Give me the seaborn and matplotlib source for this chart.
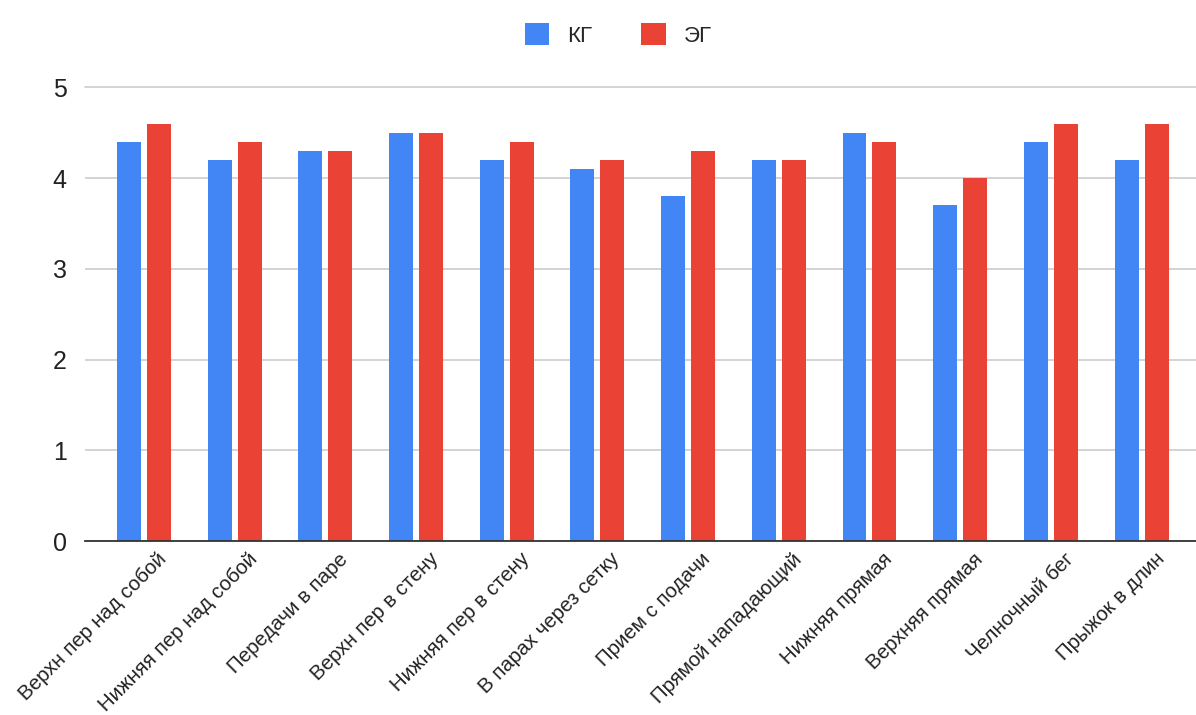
import matplotlib
matplotlib.use("Agg")
import matplotlib.pyplot as plt
import matplotlib.transforms as mtransforms
import seaborn as sns
import pandas as pd

categories = ["Верхн пер над собой", "Нижняя пер над собой", "Передачи в паре",
              "Верхн пер в стену", "Нижняя пер в стену", "В парах через сетку",
              "Прием с подачи", "Прямой нападающий", "Нижняя прямая",
              "Верхняя прямая", "Челночный бег", "Прыжок в длин"]
kg = [4.4, 4.2, 4.3, 4.5, 4.2, 4.1, 3.8, 4.2, 4.5, 3.7, 4.4, 4.2]
eg = [4.6, 4.4, 4.3, 4.5, 4.4, 4.2, 4.3, 4.2, 4.4, 4.0, 4.6, 4.6]
series = ["КГ", "ЭГ"]
yticks = [0, 1, 2, 3, 4, 5]

df = pd.DataFrame({
    "cat": categories * 2,
    "val": kg + eg,
    "grp": [series[0]] * len(kg) + [series[1]] * len(eg),
})

sns.set_theme(style="white")
plt.rcParams["font.family"] = ["Liberation Sans", "DejaVu Sans"]

fig = plt.figure(figsize=(11.96, 7.15), dpi=100)
ax = fig.add_axes([0.071, 0.243, 0.929, 0.635])

sns.barplot(data=df, x="cat", y="val", hue="grp", order=categories,
            hue_order=series, palette=["#4285F4", "#EA4335"],
            width=0.66, gap=0.2, saturation=1, ax=ax, legend=True,
            linewidth=0)

ax.set_ylim(0, 5)
ax.set_xlim(-0.65, len(categories) - 1 + 0.6)
ax.set_yticks(yticks)
ax.set_yticklabels([str(t) for t in yticks], fontsize=18, color="#222222")
ax.yaxis.grid(True, color="#cccccc", linewidth=1.2)
ax.set_axisbelow(True)
for s in ["top", "right", "left"]:
    ax.spines[s].set_visible(False)
ax.spines["bottom"].set_color("#333333")
ax.spines["bottom"].set_linewidth(1.3)
ax.tick_params(axis="y", length=0, pad=13)
ax.tick_params(axis="x", length=0, pad=6)
ax.set_xlabel("")
ax.set_ylabel("")
ax.set_xticks(range(len(categories)))
ax.set_xticklabels(categories, rotation=45, ha="right", rotation_mode="anchor",
                   fontsize=14.8, color="#222222")
offset = mtransforms.ScaledTranslation(13 / 100, 0, fig.dpi_scale_trans)
for lab in ax.get_xticklabels():
    lab.set_transform(lab.get_transform() + offset)
for sp in ax.spines.values():
    sp.set_clip_on(False)
ax.get_ygridlines()[-1].set_clip_on(False)

ax.legend(loc="center", bbox_to_anchor=(0.48, 1.115), ncol=2, frameon=False,
          fontsize=16, handlelength=1.1, handleheight=1.1, handletextpad=0.8,
          columnspacing=2.2)

fig.savefig("out.png", dpi=100)
